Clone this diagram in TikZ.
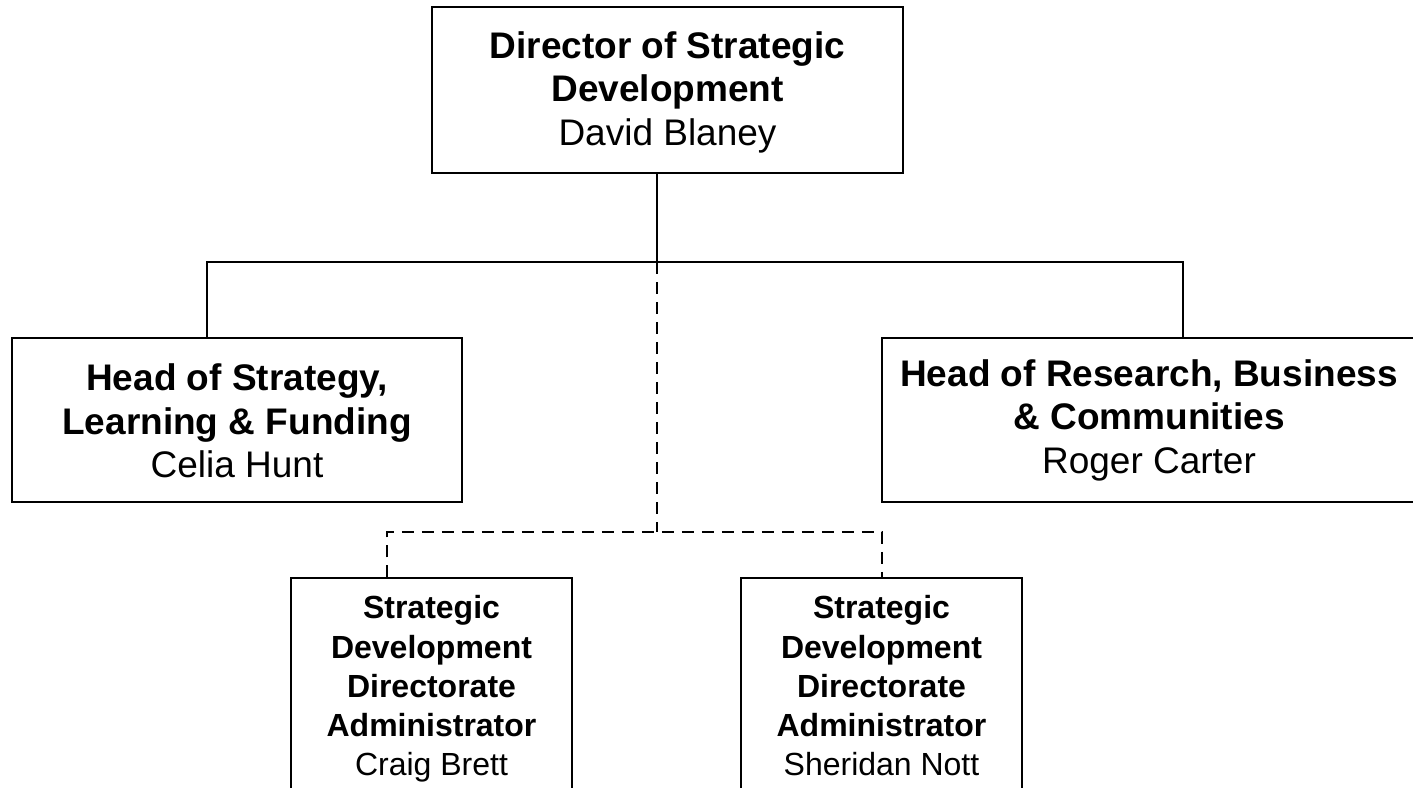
\documentclass[tikz,border=0pt]{standalone}
\usepackage{fontspec}
\setmainfont{Liberation Sans}
\begin{document}
\begin{tikzpicture}[x=1pt,y=-1pt, line width=1.5pt,
  box/.style={draw, rectangle, inner sep=0pt},
  bigtxt/.style={align=center, font=\fontsize{37}{43.5}\selectfont, inner sep=0pt},
  smalltxt/.style={align=center, font=\fontsize{32}{39.2}\selectfont, inner sep=0pt},
  dashlink/.style={dash pattern=on 12pt off 8pt}]
\useasboundingbox (0,0) rectangle (1413,787);
\clip (0,0) rectangle (1413,787);
% boxes
\node[box, minimum width=471pt, minimum height=166pt] (dir) at (667.5,90) {};
\node[box, minimum width=450pt, minimum height=164pt] (sl) at (237,420) {};
\node[box, minimum width=558pt, minimum height=164pt] (rc) at (1161,420) {};
\node[box, minimum width=281pt, minimum height=242pt] (sa) at (431.5,699) {};
\node[box, minimum width=281pt, minimum height=242pt] (sb) at (881.5,699) {};
% texts
\node[bigtxt] (dirtxt) at ([yshift=-2pt]dir.center) {\textbf{Director of Strategic}\\\textbf{Development}\\David Blaney};
\node[bigtxt] (sltxt) at ([yshift=-1pt]sl.center) {\textbf{Head of Strategy,}\\\textbf{Learning \& Funding}\\Celia Hunt};
\node[bigtxt] (rctxt) at (1149,420) {\textbf{Head of Research, Business}\\\textbf{\& Communities}\\Roger Carter};
\node[smalltxt, anchor=north] (satxt) at (431.5,595) {\textbf{Strategic}\\\textbf{Development}\\\textbf{Directorate}\\\textbf{Administrator}\\Craig Brett};
\node[smalltxt, anchor=north] (sbtxt) at (881.5,595) {\textbf{Strategic}\\\textbf{Development}\\\textbf{Directorate}\\\textbf{Administrator}\\Sheridan Nott};
% junctions
\coordinate (j1) at (657,262);
\coordinate (hl) at (207,262);
\coordinate (hr) at (1183,262);
\coordinate (jd) at (657,532);
\coordinate (dl) at (387,532);
\coordinate (dr) at (882,532);
% connectors
\draw (dir.south -| j1) -- (j1);
\draw (sl.north -| hl) -- (hl) -- (hr) -- (rc.north -| hr);
\draw[dashlink] (j1) -- (jd);
\draw[dashlink] (sa.north -| dl) -- (dl) -- (dr) -- (sb.north -| dr);
\end{tikzpicture}
\end{document}
